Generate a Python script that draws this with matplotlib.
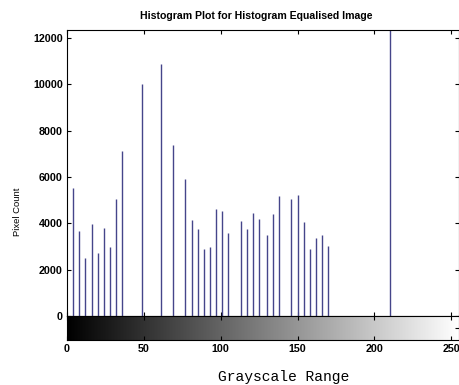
import numpy as np
import matplotlib
matplotlib.use("Agg")
import matplotlib.pyplot as plt

# grey levels that are occupied after equalisation, and their pixel counts
levels = [4, 8, 12, 16, 20, 24, 28, 32, 36, 49, 61, 69, 77, 81, 85, 89, 93, 97,
          101, 105, 113, 117, 121, 125, 130, 134, 138, 146, 150, 154, 158, 162,
          166, 170, 210]
counts = [5540, 3670, 2520, 3970, 2720, 3790, 2990, 5040, 7120, 10010, 10880,
          7380, 5920, 4130, 3770, 2880, 2980, 4630, 4550, 3580, 4100, 3740,
          4450, 4170, 3500, 4400, 5180, 5040, 5220, 4060, 2890, 3350, 3500,
          3020, 12400]
xticks = [0, 50, 100, 150, 200, 250]
yticks = [0, 2000, 4000, 6000, 8000, 10000, 12000]

tick_font = dict(family=["Liberation Sans", "DejaVu Sans"], weight="bold", size=7.7)

fig = plt.figure(figsize=(4.6, 3.85), dpi=100)

# main histogram axes
ax = fig.add_axes([0.1457, 0.179, 0.852, 0.743])
ax.vlines(levels, 0, counts, color="#45458a", linewidth=1.0)
ax.set_xlim(0, 255)
ax.set_ylim(0, 12344)
ax.set_xticks(xticks)
ax.set_xticklabels([])
ax.set_yticks(yticks)
ax.set_yticklabels([str(v) for v in yticks], fontdict=tick_font)
ax.tick_params(direction="in", top=True, right=True, length=3, width=0.8, pad=3)
for s in ax.spines.values():
    s.set_linewidth(0.8)

# grey scale strip underneath
cax = fig.add_axes([0.1457, 0.117, 0.852, 0.062])
grad = np.linspace(0, 1, 256).reshape(1, -1)
cax.imshow(grad, cmap="gray", aspect="auto", extent=[0, 255, 0, 1])
cax.set_xlim(0, 255)
cax.set_ylim(0, 1)
cax.set_xticks(xticks)
cax.set_xticklabels([str(v) for v in xticks], fontdict=tick_font)
cax.set_yticks([0.5])
cax.set_yticklabels([])
cax.tick_params(direction="in", top=True, right=True, left=False, length=3, width=0.8, pad=3)
for s in cax.spines.values():
    s.set_linewidth(0.8)

fig.text(256 / 460, 1 - 16 / 385, "Histogram Plot for Histogram Equalised Image",
         ha="center", va="center", fontsize=7.6, weight="bold",
         family=["Liberation Sans", "DejaVu Sans"])
fig.text(18 / 460, 1 - 212 / 385, "Pixel Count", rotation=90, ha="center", va="center",
         fontsize=6.8, family=["Liberation Sans", "DejaVu Sans"])
fig.text(284 / 460, 1 - 377 / 385, "Grayscale Range", ha="center", va="center",
         fontsize=10.5, family=["Liberation Mono", "DejaVu Sans Mono"])

fig.savefig("out.png", dpi=100)
